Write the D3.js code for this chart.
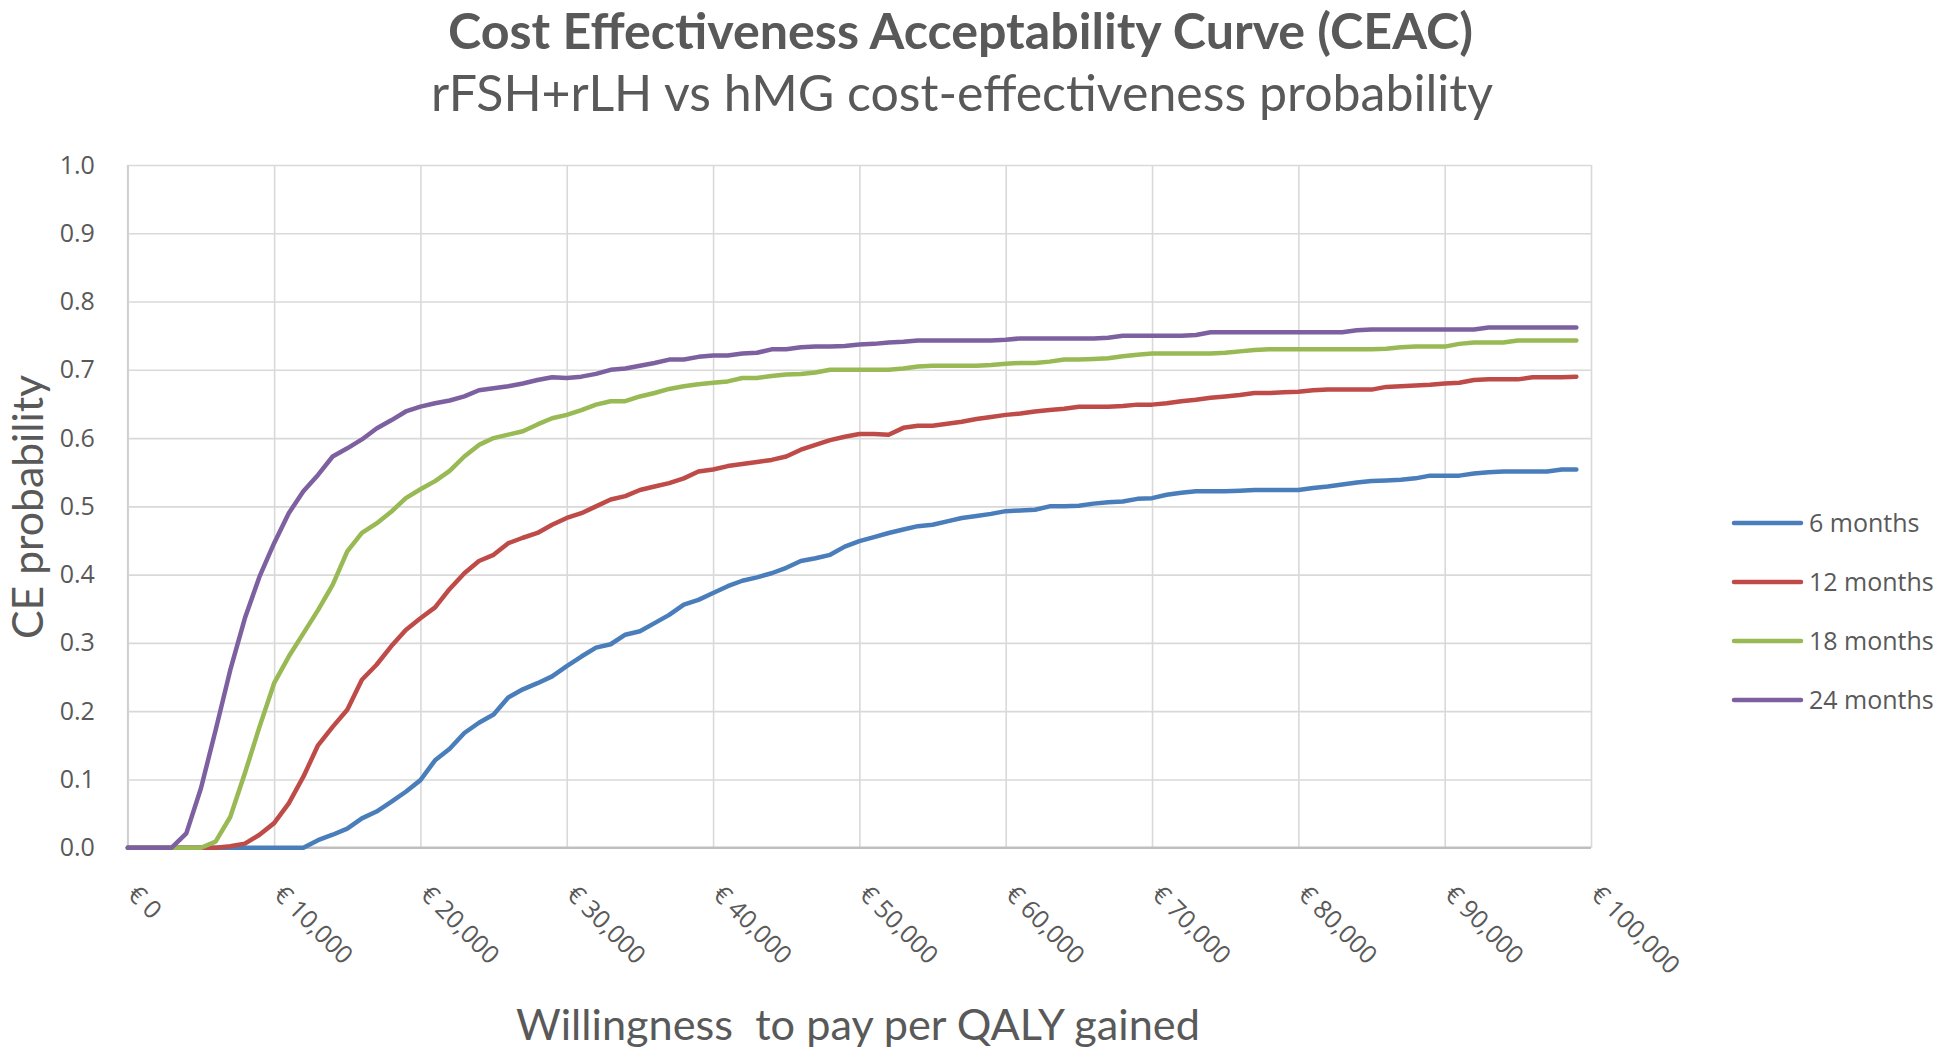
<!DOCTYPE html>
<html>
<head>
<meta charset="utf-8">
<script src="https://cdn.jsdelivr.net/npm/d3@7"></script>
<style>
  html, body { margin: 0; padding: 0; background: #ffffff; }
  svg { display: block; }
</style>
</head>
<body>
<svg id="chart" width="1946" height="1053"></svg>
<script>
// ---------------- DATA ----------------
const wtp = [0,1000,2000,3000,4000,5000,6000,7000,8000,9000,
  10000,11000,12000,13000,14000,15000,16000,17000,18000,19000,
  20000,21000,22000,23000,24000,25000,26000,27000,28000,29000,
  30000,31000,32000,33000,34000,35000,36000,37000,38000,39000,
  40000,41000,42000,43000,44000,45000,46000,47000,48000,49000,
  50000,51000,52000,53000,54000,55000,56000,57000,58000,59000,
  60000,61000,62000,63000,64000,65000,66000,67000,68000,69000,
  70000,71000,72000,73000,74000,75000,76000,77000,78000,79000,
  80000,81000,82000,83000,84000,85000,86000,87000,88000,89000,
  90000,91000,92000,93000,94000,95000,96000,97000,98000,99000];

const months6 = [0,0,0,0,0,0,0,0,0,0,
  0,0,0,0.011,0.019,0.028,0.043,0.053,0.067,0.082,
  0.099,0.128,0.145,0.168,0.183,0.195,0.22,0.232,0.241,0.251,
  0.266,0.28,0.293,0.298,0.312,0.317,0.329,0.341,0.356,0.363,
  0.373,0.383,0.391,0.396,0.402,0.41,0.42,0.424,0.429,0.441,
  0.449,0.455,0.461,0.466,0.471,0.473,0.478,0.483,0.486,0.489,
  0.493,0.494,0.495,0.5,0.5,0.501,0.504,0.506,0.507,0.511,
  0.512,0.517,0.52,0.522,0.522,0.522,0.523,0.524,0.524,0.524,
  0.524,0.527,0.529,0.532,0.535,0.537,0.538,0.539,0.541,0.545,
  0.545,0.545,0.548,0.55,0.551,0.551,0.551,0.551,0.554,0.554];

const months12 = [0,0,0,0,0,0,0,0.002,0.006,0.019,
  0.036,0.065,0.104,0.15,0.177,0.202,0.246,0.268,0.295,0.319,
  0.336,0.352,0.379,0.402,0.42,0.429,0.446,0.454,0.461,0.473,
  0.483,0.49,0.5,0.51,0.515,0.524,0.529,0.534,0.541,0.551,
  0.554,0.559,0.562,0.565,0.568,0.573,0.583,0.59,0.597,0.602,
  0.606,0.606,0.605,0.615,0.618,0.618,0.621,0.624,0.628,0.631,
  0.634,0.636,0.639,0.641,0.643,0.646,0.646,0.646,0.647,0.649,
  0.649,0.651,0.654,0.656,0.659,0.661,0.663,0.666,0.666,0.667,
  0.668,0.67,0.671,0.671,0.671,0.671,0.675,0.676,0.677,0.678,
  0.68,0.681,0.685,0.686,0.686,0.686,0.689,0.689,0.689,0.69];

const months18 = [0,0,0,0,0,0,0.009,0.045,0.109,0.177,
  0.241,0.28,0.314,0.348,0.385,0.434,0.461,0.475,0.492,0.512,
  0.525,0.537,0.552,0.573,0.59,0.6,0.605,0.61,0.62,0.629,
  0.634,0.641,0.649,0.654,0.654,0.661,0.666,0.672,0.676,0.679,
  0.681,0.683,0.688,0.688,0.691,0.693,0.694,0.696,0.7,0.7,
  0.7,0.7,0.7,0.702,0.705,0.706,0.706,0.706,0.706,0.707,
  0.709,0.71,0.71,0.712,0.715,0.715,0.716,0.717,0.72,0.722,
  0.724,0.724,0.724,0.724,0.724,0.725,0.727,0.729,0.73,0.73,
  0.73,0.73,0.73,0.73,0.73,0.73,0.731,0.733,0.734,0.734,
  0.734,0.738,0.74,0.74,0.74,0.743,0.743,0.743,0.743,0.743];

const months24 = [0,0,0,0,0.021,0.087,0.172,0.26,0.336,0.397,
  0.446,0.49,0.522,0.546,0.573,0.585,0.598,0.614,0.626,0.639,
  0.646,0.651,0.655,0.661,0.67,0.673,0.676,0.68,0.685,0.689,
  0.688,0.69,0.694,0.7,0.702,0.706,0.71,0.715,0.715,0.719,
  0.721,0.721,0.724,0.725,0.73,0.73,0.733,0.734,0.734,0.735,
  0.737,0.738,0.74,0.741,0.743,0.743,0.743,0.743,0.743,0.743,
  0.744,0.746,0.746,0.746,0.746,0.746,0.746,0.747,0.75,0.75,
  0.75,0.75,0.75,0.751,0.755,0.755,0.755,0.755,0.755,0.755,
  0.755,0.755,0.755,0.755,0.758,0.759,0.759,0.759,0.759,0.759,
  0.759,0.759,0.759,0.762,0.762,0.762,0.762,0.762,0.762,0.762];

const seriesNames = ["6 months", "12 months", "18 months", "24 months"];
const seriesColors = ["#4A7EBB", "#BE4B48", "#98B954", "#7D60A0"];

const xTickValues = [0,10000,20000,30000,40000,50000,60000,70000,80000,90000,100000];
const xTickLabels = ["€ 0","€ 10,000","€ 20,000","€ 30,000","€ 40,000","€ 50,000",
  "€ 60,000","€ 70,000","€ 80,000","€ 90,000","€ 100,000"];
const yTickValues = [0,0.1,0.2,0.3,0.4,0.5,0.6,0.7,0.8,0.9,1.0];

const titleText = "Cost Effectiveness Acceptability Curve (CEAC)";
const subtitleText = "rFSH+rLH vs hMG cost-effectiveness probability";
const yTitleText = "CE probability";
const xTitleText = "Willingness  to pay per QALY gained";

// ---------------- CHART ----------------
const svg = d3.select("#chart");
const plot = { left: 127.8, right: 1591, top: 165, bottom: 847.7 };
const textColor = "#595959";
const gridColor = "#d9d9d9";

const x = d3.scaleLinear().domain([0, 100000]).range([plot.left, plot.right]);
const y = d3.scaleLinear().domain([0, 1]).range([plot.bottom, plot.top]);

// horizontal gridlines
svg.append("g")
  .attr("transform", `translate(${plot.left},0)`)
  .call(d3.axisLeft(y).tickValues(yTickValues).tickSize(-(plot.right - plot.left)).tickFormat(""))
  .call(g => g.select(".domain").remove())
  .call(g => g.selectAll("line").attr("stroke", gridColor).attr("stroke-width", 1.6));

// vertical gridlines
svg.append("g")
  .attr("transform", `translate(0,${plot.bottom})`)
  .call(d3.axisBottom(x).tickValues(xTickValues).tickSize(-(plot.bottom - plot.top)).tickFormat(""))
  .call(g => g.select(".domain").remove())
  .call(g => g.selectAll("line").attr("stroke", gridColor).attr("stroke-width", 1.6));

// left axis line
svg.append("line")
  .attr("x1", plot.left).attr("x2", plot.left)
  .attr("y1", plot.top).attr("y2", plot.bottom)
  .attr("stroke", "#cfcfcf").attr("stroke-width", 1.8);

// bottom axis line
svg.append("line")
  .attr("x1", plot.left).attr("x2", plot.right)
  .attr("y1", plot.bottom).attr("y2", plot.bottom)
  .attr("stroke", "#bfbfbf").attr("stroke-width", 2.4);

// y tick labels
svg.append("g")
  .attr("transform", `translate(${plot.left},0)`)
  .call(d3.axisLeft(y).tickValues(yTickValues).tickSize(0).tickPadding(33).tickFormat(d3.format(".1f")))
  .call(g => g.select(".domain").remove())
  .call(g => g.selectAll("text")
    .attr("fill", textColor)
    .style("font-family", "'Open Sans', sans-serif")
    .style("font-size", "25px"));

// x tick labels (rotated)
const xLab = d3.scaleOrdinal().domain(xTickValues).range(xTickLabels);
svg.append("g")
  .attr("transform", `translate(0,${plot.bottom})`)
  .call(d3.axisBottom(x).tickValues(xTickValues).tickSize(0).tickFormat(d => xLab(d)))
  .call(g => g.select(".domain").remove())
  .call(g => g.selectAll("text")
    .attr("fill", textColor)
    .attr("x", 0).attr("y", 0).attr("dy", 0)
    .attr("text-anchor", "start")
    .attr("transform", "translate(-2,48) rotate(45)")
    .style("font-family", "'Open Sans', sans-serif")
    .style("font-size", "25px"));

// series lines
const allSeries = [months6, months12, months18, months24];
const line = d3.line().x((d, i) => x(wtp[i])).y(d => y(d));
svg.append("g").selectAll("path")
  .data(allSeries)
  .join("path")
  .attr("d", d => line(d))
  .attr("fill", "none")
  .attr("stroke", (d, i) => seriesColors[i])
  .attr("stroke-width", 4.5)
  .attr("stroke-linejoin", "round")
  .attr("stroke-linecap", "round");

// legend
const legendY = [523, 582, 641, 700];
const legend = svg.append("g").selectAll("g")
  .data(seriesNames)
  .join("g")
  .attr("transform", (d, i) => `translate(0,${legendY[i]})`);
legend.append("line")
  .attr("x1", 1734).attr("x2", 1801)
  .attr("y1", 0).attr("y2", 0)
  .attr("stroke", (d, i) => seriesColors[i])
  .attr("stroke-width", 4.5)
  .attr("stroke-linecap", "round");
legend.append("text")
  .attr("x", 1809).attr("y", 0).attr("dy", "0.36em")
  .attr("fill", textColor)
  .style("font-family", "'Open Sans', sans-serif")
  .style("font-size", "25px")
  .text(d => d);

// helper to fit text to a target width
function fitText(sel, targetWidth, baseSize) {
  sel.style("font-size", baseSize + "px");
  const w = sel.node().getComputedTextLength();
  sel.style("font-size", (baseSize * targetWidth / w).toFixed(2) + "px");
}

// title
const title = svg.append("text")
  .attr("x", 960.5).attr("y", 49)
  .attr("text-anchor", "middle")
  .attr("fill", textColor)
  .style("font-family", "Lato, sans-serif")
  .style("font-weight", "bold")
  .text(titleText);
fitText(title, 1025, 44);

const subtitle = svg.append("text")
  .attr("x", 962).attr("y", 111)
  .attr("text-anchor", "middle")
  .attr("fill", textColor)
  .style("font-family", "Lato, sans-serif")
  .text(subtitleText);
fitText(subtitle, 1062, 48);

// y axis title
const yTitle = svg.append("text")
  .attr("transform", "translate(43,507) rotate(-90)")
  .attr("text-anchor", "middle")
  .attr("fill", textColor)
  .style("font-family", "Lato, sans-serif")
  .text(yTitleText);
fitText(yTitle, 264, 42);

// x axis title
const xTitle = svg.append("text")
  .attr("x", 858).attr("y", 1040)
  .attr("text-anchor", "middle")
  .attr("fill", textColor)
  .style("font-family", "Lato, sans-serif")
  .style("white-space", "pre")
  .text(xTitleText);
fitText(xTitle, 684, 44);
</script>
</body>
</html>
